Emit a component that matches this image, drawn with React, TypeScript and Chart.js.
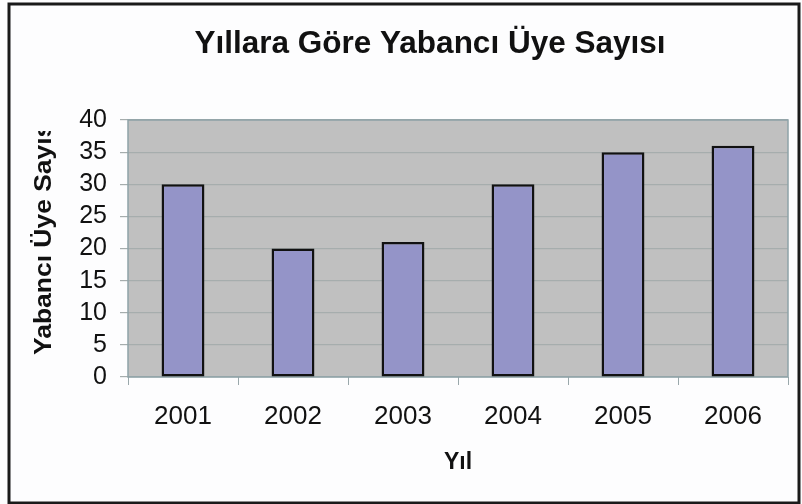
import React, { useEffect, useRef } from "react";
import { Chart, registerables } from "chart.js";

Chart.register(...registerables);

const chartTitle = "Yıllara Göre Yabancı Üye Sayısı";
const xAxisTitle = "Yıl";
const yAxisTitle = "Yabancı Üye Sayısı";
const years = ["2001", "2002", "2003", "2004", "2005", "2006"];
const members = [30, 20, 21, 30, 35, 36];
const yMin = 0;
const yMax = 40;
const yStep = 5;

const FONT = "'Liberation Sans', Arial, sans-serif";

const decorPlugin = {
  id: "decor",
  beforeDraw(chart: any) {
    const { ctx, width, height, chartArea } = chart;
    ctx.save();
    ctx.fillStyle = "#fdfdfe";
    ctx.fillRect(0, 0, width, height);
    ctx.fillStyle = "#c0c0c0";
    ctx.fillRect(chartArea.left, chartArea.top, chartArea.right - chartArea.left, chartArea.bottom - chartArea.top);
    ctx.restore();
  },
  beforeDatasetsDraw(chart: any) {
    const { ctx, chartArea } = chart;
    ctx.save();
    ctx.strokeStyle = "#8ea3a8";
    ctx.lineWidth = 1.5;
    ctx.strokeRect(chartArea.left, chartArea.top, chartArea.right - chartArea.left, chartArea.bottom - chartArea.top);
    ctx.restore();
  },
  afterDraw(chart: any) {
    const { ctx } = chart;
    ctx.save();
    // chart title
    ctx.fillStyle = "#111";
    ctx.font = `bold 31.5px ${FONT}`;
    ctx.textAlign = "center";
    ctx.textBaseline = "alphabetic";
    ctx.fillText(chartTitle, 430, 53);
    // y axis title (clipped at top like the original)
    ctx.save();
    ctx.beginPath();
    ctx.rect(0, 131, 120, 373);
    ctx.clip();
    ctx.translate(51, 355);
    ctx.rotate(-Math.PI / 2);
    ctx.scale(1.15, 1);
    ctx.font = `bold 23px ${FONT}`;
    ctx.textAlign = "left";
    ctx.fillText(yAxisTitle, 0, 0);
    ctx.restore();
    // outer frame
    ctx.strokeStyle = "#1a1a1a";
    ctx.lineWidth = 3;
    ctx.strokeRect(9, 4, 790, 499);
    ctx.restore();
  },
};

export default function App() {
  const ref = useRef<HTMLCanvasElement>(null);
  useEffect(() => {
    if (!ref.current) return;
    const chart = new Chart(ref.current, {
      type: "bar",
      data: {
        labels: years,
        datasets: [
          {
            data: members,
            backgroundColor: "#9494c8",
            borderColor: "#111111",
            borderWidth: 2.5,
            borderSkipped: false,
            categoryPercentage: 1,
            barPercentage: 0.39,
          },
        ],
      },
      options: {
        responsive: false,
        animation: false,
        devicePixelRatio: 1,
        layout: { padding: { top: 120, right: 14, bottom: 20, left: 60 } },
        plugins: { legend: { display: false }, title: { display: false }, tooltip: { enabled: false } },
        scales: {
          x: {
            grid: {
              offset: true,
              drawOnChartArea: false,
              drawTicks: true,
              tickLength: 8,
              color: "#9aa8ab",
            },
            border: { display: false },
            ticks: {
              color: "#111",
              padding: 16,
              font: { family: FONT, size: 26 },
              maxRotation: 0,
              autoSkip: false,
            },
            title: {
              display: true,
              text: xAxisTitle,
              color: "#111",
              font: { family: FONT, size: 23, weight: "bold" },
              padding: { top: 0, bottom: 8 },
            },
            afterFit(scale: any) {
              scale.height = 107;
            },
          },
          y: {
            min: yMin,
            max: yMax,
            grid: {
              color: "#a6adad",
              lineWidth: 1.2,
              tickLength: 8,
            },
            border: { display: false },
            ticks: {
              stepSize: yStep,
              color: "#111",
              padding: 13,
              autoSkip: false,
              maxTicksLimit: 20,
              font: { family: FONT, size: 25, lineHeight: 1 },
            },
            afterFit(scale: any) {
              scale.width = 68;
            },
          },
        },
      },
      plugins: [decorPlugin],
    });
    return () => chart.destroy();
  }, []);
  return (
    <div style={{ position: "absolute", left: 0, top: 0, width: 802, height: 504 }}>
      <canvas ref={ref} width={802} height={504} style={{ display: "block", width: 802, height: 504 }} />
    </div>
  );
}
